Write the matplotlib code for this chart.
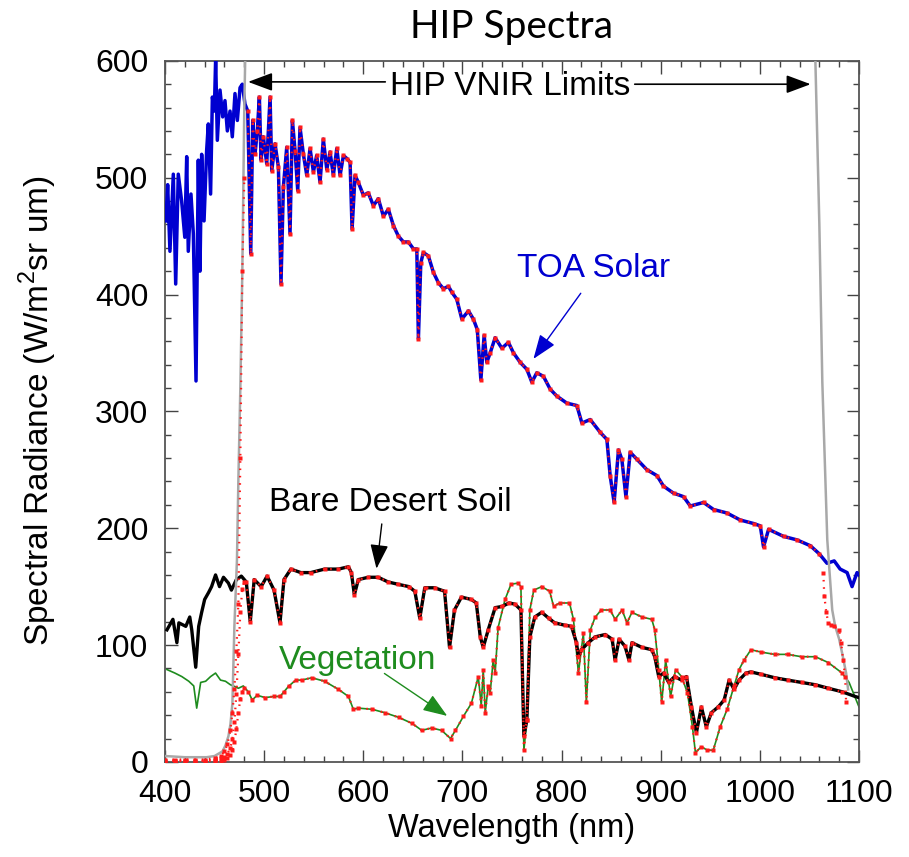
"""Recreate the HIP Spectra chart (TOA solar, bare desert soil, vegetation)."""
import matplotlib
matplotlib.use("Agg")
import matplotlib.pyplot as plt
import numpy as np
from matplotlib.ticker import MultipleLocator

plt.rcParams["font.family"] = ["Liberation Sans", "DejaVu Sans"]
plt.rcParams["mathtext.fontset"] = "custom"
plt.rcParams["mathtext.rm"] = "Liberation Sans"

# TOA solar radiance (blue)
toa_wl = [401, 402.7, 405, 408.4, 410.8, 413.4, 416.8, 420, 421.9, 423.5,
          426.2, 428.6, 431.3, 433.6, 435.3, 437, 439.4, 442, 443.7, 446,
          447.8, 449.8, 451.1, 452.8, 455.5, 458.2, 460.5, 462.9, 465.6, 467.9,
          470.6, 473, 475.7, 478, 480.7, 483.5, 486.5, 488.5, 490.8, 493.1,
          495.2, 496.9, 499.2, 502.6, 506, 507.7, 511, 514.4, 517, 519.4,
          522.8, 526.1, 528.5, 531.2, 533.9, 536.2, 539.6, 543, 546.3, 549.7,
          553, 556.4, 559.7, 563.2, 566.5, 569.8, 573.3, 576.6, 580, 584,
          586.7, 588.7, 591.7, 595, 600.1, 605.1, 610.2, 615.2, 620.3, 625.3,
          630.4, 635.4, 640.5, 645.5, 650.6, 654, 655.6, 658, 660.6, 665.7,
          670.7, 675.8, 680.8, 685.9, 689.3, 694.3, 699.4, 706.1, 711, 715,
          718.6, 721.9, 724.6, 728, 733, 739.8, 746.4, 751.5, 758.2, 765,
          770, 775, 781.7, 788.5, 795.3, 805.4, 815.4, 820.5, 828.9, 839,
          845.7, 849, 853, 857.4, 860.8, 864.9, 869.2, 876, 886.1, 896.2,
          902.8, 912.9, 923, 929.8, 943.2, 953.3, 966.8, 980.2, 993.7, 1000.4,
          1003.7, 1008.8, 1023.9, 1037.4, 1050.9, 1060, 1067.7, 1075, 1081, 1088,
          1093, 1098, 1100]
toa_rad = [463, 494, 437, 503, 409, 503, 480, 449, 518, 437,
           486, 452, 326, 515, 420, 520, 463, 523, 546, 486,
           569, 557, 602, 532, 575, 552, 566, 540, 557, 535,
           572, 549, 577, 580, 563, 557, 435, 549, 520, 540,
           569, 515, 535, 512, 569, 506, 529, 509, 409, 492,
           526, 452, 549, 523, 489, 543, 520, 502, 525, 505,
           519, 496, 533, 507, 522, 502, 525, 502, 519, 516,
           513, 456, 502, 496, 485, 487, 476, 482, 467, 473,
           459, 450, 445, 445, 439, 439, 362, 427, 436, 433,
           419, 410, 405, 407, 402, 396, 379, 386, 379, 370,
           327, 365, 342, 350, 363, 354, 359, 350, 342, 336,
           325, 333, 330, 319, 313, 307, 305, 290, 293, 282,
           276, 245, 222, 267, 259, 227, 265, 259, 250, 245,
           236, 230, 227, 219, 222, 216, 213, 207, 204, 202,
           184, 199, 193, 190, 185, 178, 170, 172, 165, 162,
           150, 162, 160]

# Bare desert soil (black)
soil_wl = [402, 408, 412, 414, 421, 425, 427, 431, 434, 437,
           440, 444, 447, 451, 455, 459, 464, 467, 472, 477,
           482, 486, 490, 497, 503, 510, 516, 520, 527, 537,
           547, 561, 575, 585, 588, 591, 595, 605, 615, 625,
           635, 646, 652, 657, 662, 672, 682, 687, 692, 699,
           709, 714, 718, 721, 726, 733, 740, 747, 753, 759,
           762, 765, 768, 773, 780, 787, 793, 803, 810, 815,
           817, 820, 827, 834, 844, 851, 854, 858, 864, 868,
           871, 881, 891, 894, 898, 903, 908, 914, 921, 926,
           931, 936, 941, 946, 951, 958, 964, 969, 974, 979,
           986, 991, 1001, 1015, 1028, 1042, 1056, 1069, 1083, 1096,
           1100]
soil_rad = [113, 122, 102, 119, 116, 124, 113, 81, 116, 128,
            139, 145, 150, 160, 150, 158, 153, 147, 156, 159,
            154, 120, 156, 150, 159, 147, 119, 156, 165, 162,
            162, 165, 165, 167, 162, 143, 156, 158, 158, 154,
            152, 150, 146, 123, 149, 149, 146, 98, 130, 141,
            139, 136, 107, 98, 113, 132, 133, 136, 135, 130,
            22, 36, 107, 124, 128, 123, 119, 117, 116, 102,
            90, 96, 102, 107, 109, 105, 87, 105, 99, 87,
            102, 98, 96, 90, 73, 76, 68, 73, 70, 73,
            47, 25, 47, 30, 42, 47, 53, 70, 62, 70,
            76, 77, 75, 72, 70, 68, 66, 63, 60, 56,
            55]

# Vegetation (green)
veg_wl = [402, 410, 417, 424, 429, 432, 436, 441, 446, 451,
          456, 461, 466, 469, 474, 479, 484, 488, 493, 501,
          510, 516, 520, 525, 532, 538, 548, 561, 575, 585,
          590, 595, 609, 622, 636, 649, 659, 669, 679, 688,
          693, 701, 709, 716, 719, 721, 723, 726, 728, 731,
          733, 736, 743, 749, 756, 759, 762, 765, 768, 772,
          780, 788, 792, 798, 808, 812, 817, 822, 825, 829,
          834, 840, 849, 854, 861, 866, 871, 881, 891, 894,
          898, 901, 905, 910, 915, 921, 927, 932, 935, 941,
          947, 953, 960, 967, 974, 979, 984, 991, 1001, 1015,
          1028, 1042, 1056, 1069, 1083, 1090, 1100]
veg_rad = [79, 76, 73, 69, 65, 46, 68, 69, 73, 76,
           70, 69, 66, 65, 63, 65, 60, 53, 57, 55,
           56, 56, 60, 65, 70, 70, 72, 69, 62, 56,
           45, 46, 45, 42, 38, 33, 27, 29, 27, 20,
           27, 39, 50, 73, 48, 79, 42, 65, 59, 87,
           76, 115, 139, 152, 153, 150, 10, 36, 130, 147,
           150, 146, 133, 136, 136, 122, 76, 110, 51, 113,
           124, 130, 130, 122, 130, 119, 128, 124, 122, 113,
           79, 51, 87, 56, 79, 73, 59, 30, 8, 13,
           10, 10, 30, 45, 65, 79, 87, 96, 94, 92,
           92, 90, 90, 85, 76, 68, 47]

# HIP VNIR spectral limits (gray), clipped at the top of the plot
hip_wl = [400, 420, 442, 450, 458, 461, 464, 466, 468, 470, 472.6, 474, 476, 478,
          480, 482, 1052, 1056, 1060, 1063, 1068, 1073, 1076, 1080, 1083, 1087, 1089]
hip_rad = [5, 4, 4, 5, 9, 14, 22, 32, 50, 116, 173, 240, 320, 420,
           560, 650, 650, 600, 460, 325, 190, 130, 116, 105, 93, 76, 62]

# HIP-sampled points at the band edges (red)
edge_wl = [400, 410, 420, 430, 440, 450, 456, 460, 463, 466, 468, 470,
           472, 474, 476, 478, 480]
edge_toa = [2, 2, 2, 2, 2, 3, 5, 9, 15, 27, 42, 62, 95, 135, 260, 420, 500]
edge_soil = [1, 1, 1, 1, 1, 2, 3, 4, 7, 12, 20, 34, 58, 92, 128, 148, 154]
edge_veg = [0.5, 0.5, 0.5, 0.5, 0.5, 1, 1, 2, 3, 6, 10, 17, 28, 42, 54, 60, 63]
drop_wl = [1064, 1065, 1067, 1069, 1072, 1075, 1080, 1082, 1084, 1086, 1087]
drop_toa = [162, 142, 128, 119, 117, 116, 113, 102, 87, 73, 51]

BLUE = "#0000d0"
GREEN = "#1e8c1e"
RED = "#ff1a1a"
DOTS = (0, (0.7, 2.6))

fig = plt.figure(figsize=(9.09, 8.57), dpi=100)
ax = fig.add_axes([0.1815, 0.111, 0.7635, 0.818])

ax.plot(veg_wl, veg_rad, color=GREEN, lw=1.2, zorder=2)
ax.plot(soil_wl, soil_rad, color="black", lw=2.4, zorder=3)
ax.plot(toa_wl, toa_rad, color=BLUE, lw=2.5, zorder=4)
ax.plot(hip_wl, hip_rad, color="#a8a8a8", lw=1.8, zorder=5)

# red HIP samples: in-band part of each spectrum plus the roll-off at the edges
for wl, rad, hi in [(toa_wl, toa_rad, 1062), (soil_wl, soil_rad, 1085), (veg_wl, veg_rad, 1085)]:
    wl = np.asarray(wl)
    rad = np.asarray(rad)
    keep = (wl >= 481) & (wl <= hi)
    ax.plot(wl[keep], rad[keep], color=RED, lw=1.6, ls=DOTS, zorder=6)
    ax.plot(wl[keep], rad[keep], "s", color=RED, ms=2.2, mec="none", zorder=6)
for rad in (edge_toa, edge_soil, edge_veg):
    ax.plot(edge_wl, rad, color=RED, lw=1.6, ls=DOTS, zorder=6)
    ax.plot(edge_wl, rad, "s", color=RED, ms=2.2, mec="none", zorder=6)
ax.plot(drop_wl, drop_toa, color=RED, lw=1.6, ls=DOTS, zorder=6)
ax.plot(drop_wl, drop_toa, "s", color=RED, ms=2.2, mec="none", zorder=6)

# annotations
ax.text(748, 578, "HIP VNIR Limits", fontsize=24, ha="center", va="center")
head = "-|>,head_length=0.75,head_width=0.28"
ax.annotate("", xy=(481, 582), xytext=(625, 582),
            arrowprops=dict(arrowstyle=head, mutation_scale=20, color="black", lw=1.2))
ax.annotate("", xy=(1054, 580), xytext=(871, 580),
            arrowprops=dict(arrowstyle=head, mutation_scale=20, color="black", lw=1.2))

ax.text(832, 422, "TOA Solar", fontsize=24, color=BLUE, ha="center", va="center")
ax.annotate("", xy=(770, 343), xytext=(821, 403),
            arrowprops=dict(arrowstyle=head, mutation_scale=20, color=BLUE, lw=1.0))

ax.text(627, 222, "Bare Desert Soil", fontsize=24, ha="center", va="center")
ax.annotate("", xy=(613, 163), xytext=(619, 206),
            arrowprops=dict(arrowstyle=head, mutation_scale=20, color="black", lw=1.0))

ax.text(594, 87, "Vegetation", fontsize=24, color=GREEN, ha="center", va="center")
ax.annotate("", xy=(687, 38), xytext=(619, 77),
            arrowprops=dict(arrowstyle=head, mutation_scale=20, color=GREEN, lw=1.0))

ax.set_xlim(400, 1100)
ax.set_ylim(0, 600)
ax.xaxis.set_major_locator(MultipleLocator(100))
ax.xaxis.set_minor_locator(MultipleLocator(20))
ax.yaxis.set_major_locator(MultipleLocator(100))
ax.yaxis.set_minor_locator(MultipleLocator(20))
ax.tick_params(which="both", direction="in", top=True, right=True, width=1.0, color="#444444")
ax.tick_params(which="major", length=9, labelsize=23, pad=12)
ax.tick_params(which="minor", length=4.5)
for sp in ax.spines.values():
    sp.set_color("#555555")
    sp.set_linewidth(1.3)

fig.text(512 / 909, 1 - 27 / 857, "HIP Spectra", fontsize=28, family=["Lato", "DejaVu Sans"],
         ha="center", va="center")
fig.text(512 / 909, 1 - 829 / 857, "Wavelength (nm)", fontsize=23.5, ha="center", va="center")
fig.text(38 / 909, 1 - 411 / 857, r"Spectral Radiance (W/m$^2$sr um)", fontsize=24,
         rotation=90, ha="center", va="center")

fig.savefig("out.png", dpi=100)
